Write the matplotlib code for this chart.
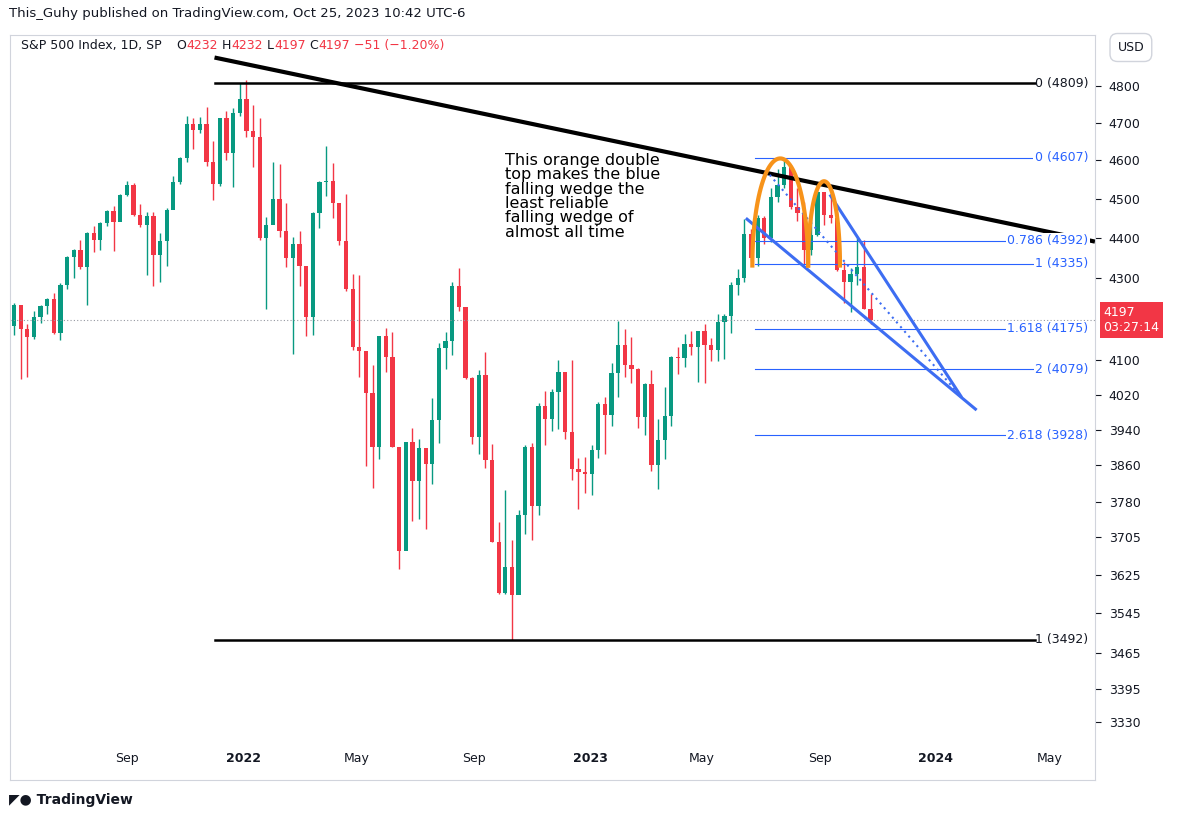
import matplotlib
matplotlib.use("Agg")
import matplotlib.pyplot as plt
import numpy as np
import pandas as pd

# weekly candles, May 2021 - Oct 2023 (read approx. from chart)
closes = [4232, 4174, 4156, 4204, 4230, 4247, 4166, 4281, 4352, 4370, 4327, 4411, 4395, 4436, 4468, 4441, 4509,
          4535, 4458, 4432, 4455, 4357, 4391, 4471, 4544, 4605, 4697, 4682, 4698, 4595, 4538, 4712, 4620, 4726, 4766,
          4677, 4662, 4398, 4432, 4500, 4418, 4349, 4385, 4329, 4204, 4463, 4543, 4546, 4488, 4392, 4272, 4132, 4123,
          4023, 3901, 4158, 4109, 3901, 3675, 3912, 3825, 3899, 3863, 3962, 4130, 4145, 4280, 4228, 4058, 3924, 4067,
          3873, 3693, 3586, 3640, 3583, 3752, 3901, 3771, 3993, 3965, 4026, 4072, 3934, 3852, 3845, 3840,
          3895, 3999, 3973, 4071, 4136, 4090, 4079, 3970, 4046, 3862, 3917, 3971, 4109, 4105, 4138, 4133, 4169, 4136,
          4124, 4192, 4205, 4282, 4299, 4410, 4348, 4450, 4399, 4505, 4536, 4582, 4478, 4464, 4370, 4406, 4516, 4457,
          4450, 4320, 4288, 4308, 4327, 4224, 4197]
highs = [4238, 4230, 4188, 4219, 4234, 4250, 4262, 4286, 4355, 4372, 4393, 4415, 4429, 4441, 4470, 4482, 4513,
         4546, 4541, 4486, 4465, 4466, 4412, 4475, 4559, 4608, 4718, 4714, 4717, 4744, 4652, 4713, 4731, 4740, 4808,
         4818, 4749, 4713, 4453, 4595, 4590, 4489, 4402, 4416, 4325, 4465, 4546, 4637, 4593, 4487, 4513, 4308, 4307,
         4081, 4090, 4158, 4177, 4168, 3884, 3913, 3945, 3918, 3880, 4012, 4141, 4167, 4290, 4325, 4204, 4062, 4077,
         4119, 3907, 3736, 3806, 3698, 3762, 3905, 3911, 4001, 4028, 4034, 4100, 4052, 4100, 3877, 3878,
         3906, 4003, 4015, 4094, 4195, 4176, 4156, 4082, 4048, 4078, 3964, 4039, 4110, 4133, 4164, 4170, 4170, 4186,
         4154, 4212, 4212, 4290, 4322, 4448, 4421, 4458, 4456, 4527, 4578, 4607, 4584, 4528, 4490, 4458, 4541, 4515,
         4509, 4465, 4338, 4325, 4398, 4394, 4259]
lows = [4160, 4056, 4062, 4152, 4190, 4212, 4164, 4148, 4271, 4300, 4322, 4233, 4363, 4368, 4430, 4367, 4443,
        4506, 4456, 4427, 4306, 4279, 4288, 4329, 4472, 4537, 4595, 4631, 4672, 4585, 4495, 4532, 4600, 4531, 4719,
        4662, 4582, 4395, 4222, 4435, 4401, 4327, 4115, 4280, 4157, 4161, 4424, 4506, 4450, 4381, 4268, 4124, 4062,
        3859, 3810, 3875, 4074, 3900, 3636, 3703, 3738, 3742, 3721, 3819, 3911, 4080, 4112, 4218, 4057, 3907, 3886,
        3855, 3693, 3584, 3585, 3491, 3590, 3710, 3698, 3751, 3906, 3938, 3942, 3918, 3828, 3764, 3800,
        3794, 3877, 3885, 3949, 4015, 4061, 4048, 3944, 3928, 3847, 3808, 3874, 3949, 4069, 4084, 4114, 4049, 4048,
        4099, 4098, 4103, 4166, 4257, 4290, 4341, 4328, 4385, 4389, 4490, 4528, 4474, 4443, 4335, 4356, 4403, 4432,
        4437, 4316, 4238, 4216, 4283, 4223, 4187]
first_open = 4181
weeks = pd.date_range("2021-05-07", periods=len(closes), freq="W-FRI")

fib_black = [(0, 4809), (1, 3492)]
fib_blue = [("0", 4607), ("0.786", 4392), ("1", 4335), ("1.618", 4175), ("2", 4079), ("2.618", 3928)]
price_ticks = [4800, 4700, 4600, 4500, 4400, 4300, 4100, 4020, 3940, 3860, 3780, 3705, 3625, 3545, 3465,
               3395, 3330]
month_ticks = [("2021-09-01", "Sep"), ("2022-01-03", "2022"), ("2022-05-02", "May"), ("2022-09-01", "Sep"),
               ("2023-01-03", "2023"), ("2023-05-01", "May"), ("2023-09-01", "Sep"), ("2024-01-02", "2024"),
               ("2024-05-01", "May")]
last_price = 4197

# drawings, x in business days from 2021-09-01
trend_x, trend_y = [66, 729], [4880, 4390]
fib_black_x = [66, 684]
fib_blue_x = [473, 684]
wedge_upper_x, wedge_upper_y = [530, 628], [4507, 4017]
wedge_lower_x, wedge_lower_y = [467, 639], [4447, 3987]
wedge_mid_x, wedge_mid_y = [481, 624], [4574, 4030]
arcs = [(471, 513, 4605), (513, 537, 4545)]
arc_base = 4330

GREEN = "#089981"
RED = "#f23645"
BLUE = "#2962ff"
WEDGE = "#3d6df2"
ORANGE = "#f7931a"
ORIGIN = np.datetime64("2021-09-01")
XMIN, XMAX = -88, 729


def bd(d):
    return int(np.busday_count(ORIGIN, np.datetime64(pd.Timestamp(d).date())))


fig = plt.figure(figsize=(11.78, 8.19), dpi=100)
ax = fig.add_axes([0.0085, 0.048, 0.921, 0.909])
ax.set_yscale("log")
ax.set_ylim(3222, 4943)
ax.set_xlim(XMIN, XMAX)

xs = [bd(d) - 2 for d in weeks]
opens = [first_open] + closes[:-1]
for x, o, h, l, c in zip(xs, opens, highs, lows, closes):
    col = GREEN if c >= o else RED
    ax.vlines(x, l, h, color=col, linewidth=1)
    ax.bar(x, abs(c - o) if c != o else 2, bottom=min(o, c), width=3.2, color=col)

# last price dotted line
ax.axhline(last_price, color="#9598a1", linestyle=(0, (1, 2)), linewidth=0.8)

# black trendline and fib levels
ax.plot(trend_x, trend_y, color="black", linewidth=3, solid_capstyle="butt")
for lvl, price in fib_black:
    ax.plot(fib_black_x, [price, price], color="black", linewidth=1.8)
    ax.text(XMAX - 5, price, f"{lvl} ({price})", va="center", ha="right", fontsize=9, color="#131722")
for lvl, price in fib_blue:
    ax.plot(fib_blue_x, [price, price], color=BLUE, linewidth=0.8)
    ax.text(XMAX - 5, price, f"{lvl} ({price})", va="center", ha="right", fontsize=9, color=BLUE,
            bbox=dict(facecolor="white", edgecolor="none", pad=1))

# wedge
ax.plot(wedge_upper_x, wedge_upper_y, color=WEDGE, linewidth=2.2)
ax.plot(wedge_lower_x, wedge_lower_y, color=WEDGE, linewidth=2.2)
ax.plot(wedge_mid_x, wedge_mid_y, color=WEDGE, linewidth=1.5, linestyle=(0, (1, 2)))

# orange double top arcs
t = np.linspace(0, np.pi, 60)
for x0, x1, top in arcs:
    xc, rx = (x0 + x1) / 2, (x1 - x0) / 2
    ax.plot(xc - rx * np.cos(t), arc_base + (top - arc_base) * np.sin(t), color=ORANGE, linewidth=3)

ax.text(285, 4620, "This orange double\ntop makes the blue\nfalling wedge the\nleast reliable\n"
        "falling wedge of\nalmost all time", fontsize=11.5, va="top", linespacing=0.95, color="black")

# axes styling
ax.yaxis.tick_right()
ax.set_yticks(price_ticks)
ax.set_yticklabels([str(p) for p in price_ticks], fontsize=9, color="#131722")
ax.yaxis.set_minor_locator(matplotlib.ticker.NullLocator())
ax.tick_params(axis="y", length=4, color="#131722", pad=6)
ax.set_xticks([bd(d) for d, _ in month_ticks])
ax.set_xticklabels([lab for _, lab in month_ticks], fontsize=9, color="#131722")
for tl, (_, lab) in zip(ax.get_xticklabels(), month_ticks):
    if lab.isdigit():
        tl.set_fontweight("bold")
ax.tick_params(axis="x", length=0, direction="in", pad=-20)
for s in ax.spines.values():
    s.set_color("#d1d4dc")
    s.set_linewidth(0.8)

ax.annotate("4197\n03:27:14", xy=(1.0, last_price), xycoords=("axes fraction", "data"),
            xytext=(6, 0), textcoords="offset points", va="center", ha="left", fontsize=9, color="white",
            bbox=dict(facecolor=RED, edgecolor="none", boxstyle="square,pad=0.3"))

fig.text(0.008, 0.983, "This_Guhy published on TradingView.com, Oct 25, 2023 10:42 UTC-6", fontsize=9.5,
         va="center", color="#131722")
fig.text(0.018, 0.944, "S&P 500 Index, 1D, SP", fontsize=9, va="center", color="#131722")
renderer = fig.canvas.get_renderer()
x0 = 0.150
for txt in ["O", "4232", " H", "4232", " L", "4197", " C", "4197", " \u221251 (\u22121.20%)"]:
    col = "#131722" if txt.strip() in ("O", "H", "L", "C") else RED
    tt = fig.text(x0, 0.944, txt, fontsize=9, va="center", color=col)
    x0 += tt.get_window_extent(renderer=renderer).width / fig.bbox.width
fig.text(0.96, 0.942, "USD", fontsize=9, ha="center", va="center", color="#131722",
         bbox=dict(facecolor="white", edgecolor="#d1d4dc", boxstyle="round,pad=0.6"))
fig.text(0.008, 0.023, "\u25e4\u25cf TradingView", fontsize=10, va="center", color="#131722", fontweight="bold")

fig.savefig("out.png", dpi=100)
